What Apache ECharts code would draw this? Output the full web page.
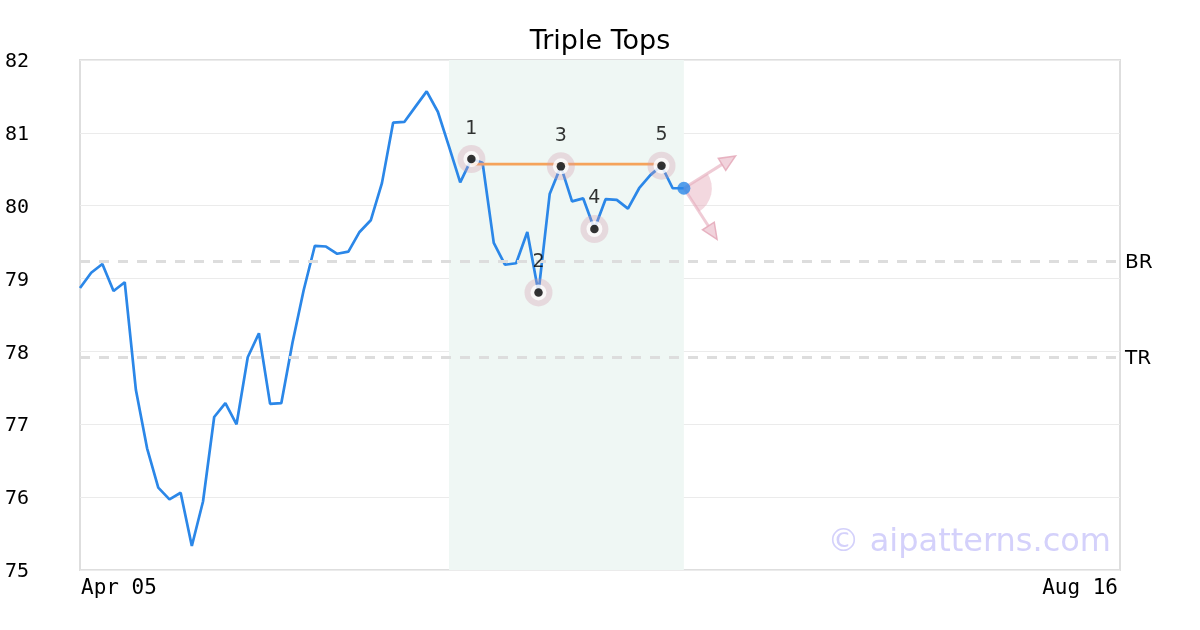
<!DOCTYPE html>
<html>
<head>
<meta charset="utf-8">
<script src="https://cdn.jsdelivr.net/npm/echarts@6/dist/echarts.min.js"></script>
<style>html,body{margin:0;padding:0;background:#fff}#c{width:1200px;height:630px}</style>
</head>
<body>
<div id="c"></div>
<script>
// ---- data ----
const titleText = 'Triple Tops';
const xTickLabels = ['Apr 05', 'Aug 16'];
const categoryCount = 94;
const prices = [78.87, 79.08, 79.20, 78.83, 78.95, 77.47, 76.67, 76.13, 75.97, 76.06,
  75.33, 75.94, 77.10, 77.29, 77.00, 77.92, 78.25, 77.28, 77.29, 78.12,
  78.84, 79.45, 79.44, 79.34, 79.37, 79.64, 79.80, 80.31, 81.14, 81.15,
  81.36, 81.57, 81.29, 80.81, 80.32, 80.64, 80.59, 79.49, 79.19, 79.21,
  79.64, 78.81, 80.16, 80.54, 80.06, 80.10, 79.68, 80.09, 80.08, 79.96,
  80.24, 80.42, 80.55, 80.24, 80.24];
const pivotIndex = [35, 41, 43, 46, 52];
const pivotLabel = ['1', '2', '3', '4', '5'];
const topLineLevel = 80.57;
const topLineRange = [35, 52];
const zoneRange = [33, 54];
const levelNames = ['BR', 'TR'];
const levelValues = [79.24, 77.92];
const yMin = 75, yMax = 82, yStep = 1;
const watermark = '\u00a9 aipatterns.com';

// categories (trading days)
const categories = [];
(function () {
  const holidays = ['2024-05-27', '2024-06-19', '2024-07-04'];
  const mon = ['Jan','Feb','Mar','Apr','May','Jun','Jul','Aug','Sep','Oct','Nov','Dec'];
  let d = new Date(Date.UTC(2024, 3, 5));
  while (categories.length < categoryCount) {
    const wd = d.getUTCDay();
    const iso = d.toISOString().slice(0, 10);
    if (wd !== 0 && wd !== 6 && holidays.indexOf(iso) < 0) {
      categories.push(mon[d.getUTCMonth()] + ' ' + String(d.getUTCDate()).padStart(2, '0'));
    }
    d = new Date(d.getTime() + 86400000);
  }
  categories[0] = xTickLabels[0];
  categories[categoryCount - 1] = xTickLabels[1];
})();

const lineColor = '#2b87e8';
const pivots = pivotIndex.map((i, k) => ({ value: [i, prices[i]], name: pivotLabel[k] }));
const lastIdx = prices.length - 1;

const chart = echarts.init(document.getElementById('c'), null, { renderer: 'canvas' });
chart.setOption({
  animation: false,
  backgroundColor: '#fff',
  title: {
    text: titleText, left: 'center', top: 23,
    textStyle: { fontFamily: 'DejaVu Sans', fontSize: 27, fontWeight: 'normal', color: '#000' }
  },
  grid: { left: 80, right: 80, top: 60, bottom: 60, show: true, borderColor: '#dedede', borderWidth: 2, backgroundColor: 'transparent' },
  xAxis: {
    type: 'category', data: categories, boundaryGap: false,
    axisLine: { show: false }, axisTick: { show: false }, splitLine: { show: false },
    axisLabel: {
      interval: (i) => i === 0 || i === categoryCount - 1,
      alignMinLabel: 'left', alignMaxLabel: 'right',
      fontFamily: 'DejaVu Sans Mono', fontSize: 21, color: '#000', margin: 8,
      padding: [0, 2, 0, 1]
    }
  },
  yAxis: {
    type: 'value', min: yMin, max: yMax, interval: yStep,
    axisLine: { show: false }, axisTick: { show: false },
    splitLine: { lineStyle: { color: '#ebebeb', width: 1 } },
    axisLabel: {
      align: 'left', margin: 75,
      formatter: (v) => '{a|' + v + '}',
      rich: { a: { fontFamily: 'DejaVu Sans Mono', fontSize: 20, color: '#000', padding: [4, 0, 0, 0] } }
    }
  },
  graphic: [{
    type: 'text', right: 89, top: 527, z: 100,
    style: { text: watermark, fontFamily: 'DejaVu Sans', fontSize: 32, fill: '#d4d1fb' }
  }],
  series: [
    {
      type: 'line', data: prices, showSymbol: false, z: 3,
      lineStyle: { color: lineColor, width: 2.7 },
      markArea: {
        silent: true,
        itemStyle: { color: '#eff7f4' },
        data: [[{ xAxis: zoneRange[0] }, { xAxis: zoneRange[1] }]]
      },
      markLine: {
        silent: true, symbol: 'none',
        lineStyle: { color: '#dddddd', width: 3, type: [10, 9] },
        label: {
          show: true, position: 'end', distance: 5,
          formatter: (p) => '{a|' + p.name + '}',
          rich: { a: { fontFamily: 'DejaVu Sans', fontSize: 20, color: '#000', padding: [4, 0, 0, 0] } }
        },
        data: levelNames.map((n, k) => ({ name: n, yAxis: levelValues[k] }))
      }
    },
    {
      type: 'line', data: [[topLineRange[0], topLineLevel], [topLineRange[1], topLineLevel]],
      showSymbol: false, z: 4, lineStyle: { color: '#f5a35a', width: 2.7 }
    },
    {
      type: 'scatter', data: pivots, symbolSize: 28, z: 5,
      itemStyle: { color: 'rgba(212,155,175,0.4)' },
      label: { show: true, position: 'top', distance: 7, formatter: (p) => p.name, fontFamily: 'DejaVu Sans', fontSize: 19, color: '#000' }
    },
    { type: 'scatter', data: pivots, symbolSize: 16, z: 6, itemStyle: { color: '#ffffff' } },
    { type: 'scatter', data: pivots, symbolSize: 8.5, z: 7, itemStyle: { color: '#000000' } },
    {
      type: 'custom', z: 5, data: [[lastIdx, prices[lastIdx]]],
      renderItem: function (params, api) {
        const c = api.coord([api.value(0), api.value(1)]);
        const a1 = -32 * Math.PI / 180, a2 = 57 * Math.PI / 180;
        const L = 61, R = 28;
        const col = 'rgba(228,168,185,0.45)';
        function arrow(a) {
          const tx = c[0] + L * Math.cos(a), ty = c[1] + L * Math.sin(a);
          const h = 16, w = 7;
          const bx = tx - h * Math.cos(a), by = ty - h * Math.sin(a);
          const nx = -Math.sin(a), ny = Math.cos(a);
          return [
            { type: 'line', shape: { x1: c[0], y1: c[1], x2: bx, y2: by }, style: { stroke: 'rgba(228,168,185,0.6)', lineWidth: 3 } },
            { type: 'polygon', shape: { points: [[tx, ty], [bx + nx * w, by + ny * w], [bx - nx * w, by - ny * w]] }, style: { fill: 'rgba(228,168,185,0.5)', stroke: 'rgba(228,168,185,0.85)', lineWidth: 1.5 } }
          ];
        }
        return {
          type: 'group',
          children: [
            { type: 'sector', shape: { cx: c[0], cy: c[1], r0: 0, r: R, startAngle: a1, endAngle: a2 }, style: { fill: col } }
          ].concat(arrow(a1)).concat(arrow(a2))
        };
      }
    },
    {
      type: 'scatter', data: [[lastIdx, prices[lastIdx]]], symbolSize: 13, z: 8,
      itemStyle: { color: lineColor }
    }
  ]
});
</script>
</body>
</html>
